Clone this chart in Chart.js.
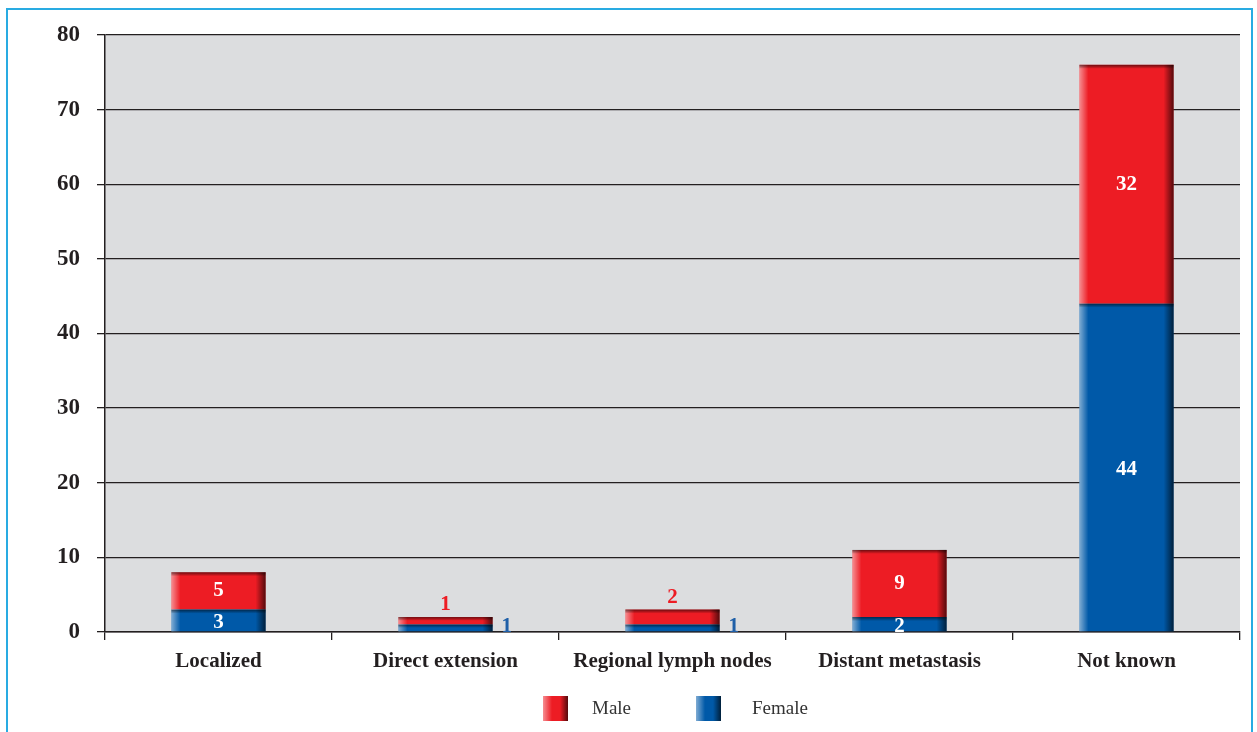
<!DOCTYPE html>
<html>
<head>
<meta charset="utf-8">
<script src="https://cdn.jsdelivr.net/npm/chart.js@4.4.1/dist/chart.umd.min.js"></script>
<style>
  html, body { margin: 0; padding: 0; background: #ffffff; }
  #wrap { position: relative; width: 1257px; height: 732px; overflow: hidden; }
  #frame { position: absolute; left: 6px; top: 8px; width: 1247px; height: 760px; border: 2px solid #29abe2; box-sizing: border-box; }
  #chart { position: absolute; left: 0; top: 0; }
</style>
</head>
<body>
<div id="wrap">
  <div id="frame"></div>
  <canvas id="chart" width="1257" height="732"></canvas>
</div>
<script>
// Données du graphique
const categories = ['Localized', 'Direct extension', 'Regional lymph nodes', 'Distant metastasis', 'Not known'];
const femaleCounts = [3, 1, 1, 2, 44];
const maleCounts = [5, 1, 2, 9, 32];
const legendOrder = ['Male', 'Female'];

const SERIF = '"Liberation Serif", "Times New Roman", serif';
const INK = '#231f20';
const RED = '#ed1c24';
const BLUE = '#0059a8';

// Fond gris de la zone de tracé
const fondPlugin = {
    id: 'fond',
    beforeDraw(chart) {
        const { ctx, chartArea: a } = chart;
        ctx.save();
        ctx.fillStyle = '#dcdddf';
        ctx.fillRect(a.left, a.top, a.right - a.left, a.bottom - a.top);
        ctx.restore();
    }
};

// Effet "relief" sur les barres + étiquettes de valeurs
const reliefPlugin = {
    id: 'relief',
    afterDatasetsDraw(chart) {
        const ctx = chart.ctx;
        ctx.save();
        chart.data.datasets.forEach((ds, di) => {
            chart.getDatasetMeta(di).data.forEach(bar => {
                const left = bar.x - bar.width / 2;
                const right = bar.x + bar.width / 2;
                const top = Math.min(bar.y, bar.base);
                const h = Math.abs(bar.base - bar.y);
                let g = ctx.createLinearGradient(left, 0, left + 9, 0);
                g.addColorStop(0, 'rgba(255,255,255,0.5)');
                g.addColorStop(1, 'rgba(255,255,255,0)');
                ctx.fillStyle = g;
                ctx.fillRect(left, top, 9, h);
                g = ctx.createLinearGradient(right - 10, 0, right, 0);
                g.addColorStop(0, 'rgba(0,0,0,0)');
                g.addColorStop(1, 'rgba(0,0,0,0.65)');
                ctx.fillStyle = g;
                ctx.fillRect(right - 10, top, 10, h);
                const th = Math.min(4, h / 2);
                g = ctx.createLinearGradient(0, top, 0, top + th);
                g.addColorStop(0, 'rgba(0,0,0,0.55)');
                g.addColorStop(1, 'rgba(0,0,0,0)');
                ctx.fillStyle = g;
                ctx.fillRect(left, top, bar.width, th);
            });
        });

        // étiquettes
        ctx.font = 'bold 21px ' + SERIF;
        ctx.textAlign = 'center';
        ctx.textBaseline = 'middle';
        const fem = chart.getDatasetMeta(0).data;
        const mal = chart.getDatasetMeta(1).data;
        categories.forEach((c, i) => {
            const total = femaleCounts[i] + maleCounts[i];
            const f = fem[i], m = mal[i];
            if (total >= 4) {
                ctx.fillStyle = '#ffffff';
                ctx.fillText(String(femaleCounts[i]), f.x, (f.y + f.base) / 2 + 2);
                ctx.fillText(String(maleCounts[i]), m.x, (m.y + m.base) / 2);
            } else {
                ctx.fillStyle = RED;
                ctx.fillText(String(maleCounts[i]), m.x, m.y - 12);
                ctx.fillStyle = '#1f5fa8';
                ctx.textAlign = 'left';
                ctx.fillText(String(femaleCounts[i]), f.x + f.width / 2 + 9, (f.y + f.base) / 2 - 1);
                ctx.textAlign = 'center';
            }
        });
        ctx.restore();
    }
};

// Légende dessinée à la main (Male puis Female)
const legendePlugin = {
    id: 'legende',
    afterDraw(chart) {
        const ctx = chart.ctx;
        const items = legendOrder.map(nom => chart.data.datasets.find(d => d.label === nom));
        const boites = [543, 696];
        const textes = [592, 752];
        ctx.save();
        ctx.font = '19px ' + SERIF;
        ctx.textBaseline = 'middle';
        ctx.textAlign = 'left';
        items.forEach((ds, k) => {
            const x = boites[k], y = 696, s = 25;
            ctx.fillStyle = ds.backgroundColor;
            ctx.fillRect(x, y, s, s);
            let g = ctx.createLinearGradient(x, 0, x + 9, 0);
            g.addColorStop(0, 'rgba(255,255,255,0.5)');
            g.addColorStop(1, 'rgba(255,255,255,0)');
            ctx.fillStyle = g;
            ctx.fillRect(x, y, 9, s);
            g = ctx.createLinearGradient(x + s - 8, 0, x + s, 0);
            g.addColorStop(0, 'rgba(0,0,0,0)');
            g.addColorStop(1, 'rgba(0,0,0,0.65)');
            ctx.fillStyle = g;
            ctx.fillRect(x + s - 8, y, 8, s);
            ctx.fillStyle = '#333333';
            ctx.fillText(ds.label, textes[k], y + s / 2 + 1);
        });
        ctx.restore();
    }
};

const ctx = document.getElementById('chart').getContext('2d');
new Chart(ctx, {
    type: 'bar',
    data: {
        labels: categories,
        datasets: [
            { label: 'Female', data: femaleCounts, backgroundColor: BLUE, stack: 's' },
            { label: 'Male', data: maleCounts, backgroundColor: RED, stack: 's' }
        ]
    },
    options: {
        responsive: false,
        animation: false,
        barPercentage: 0.415,
        categoryPercentage: 1,
        layout: { padding: { top: 35, right: 17, left: 0, bottom: 0 } },
        plugins: {
            legend: { display: false },
            tooltip: { enabled: false }
        },
        scales: {
            x: {
                stacked: true,
                afterFit(scale) { scale.height = 100; },
                grid: { offset: true, drawOnChartArea: false, tickLength: 8, color: INK, lineWidth: 1.3 },
                border: { color: INK, width: 1.5 },
                ticks: { color: INK, padding: 9, font: { family: SERIF, size: 21, weight: 'bold' }, maxRotation: 0 }
            },
            y: {
                stacked: true,
                min: 0,
                max: 80,
                afterFit(scale) { scale.width = 105; },
                grid: { color: INK, lineWidth: 1.3, tickLength: 8 },
                border: { color: INK, width: 1.5 },
                ticks: { stepSize: 10, color: INK, padding: 17, font: { family: SERIF, size: 23, weight: 'bold' } }
            }
        }
    },
    plugins: [fondPlugin, reliefPlugin, legendePlugin]
});
</script>
</body>
</html>
